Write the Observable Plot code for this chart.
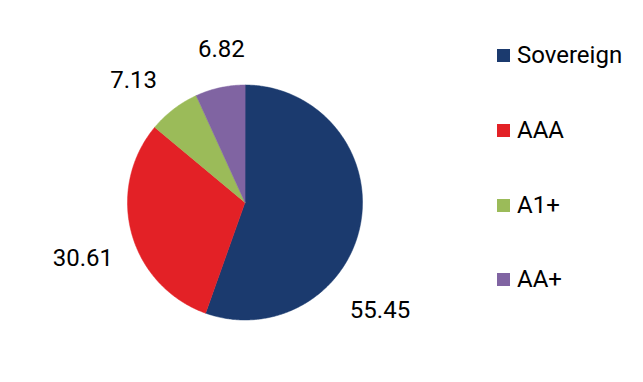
<!DOCTYPE html>
<html>
<head>
<meta charset="utf-8">
<script src="https://cdn.jsdelivr.net/npm/d3@7"></script>
<script src="https://cdn.jsdelivr.net/npm/@observablehq/plot@0.6"></script>
<style>
  html, body { margin: 0; padding: 0; background: #fff; }
  #wrap { position: relative; width: 643px; height: 382px; font-family: Roboto, "Noto Sans", sans-serif; }
  #legend { position: absolute; left: 497px; top: 0; }
  .item { position: absolute; left: 0; display: flex; align-items: center; white-space: nowrap; font-size: 24px; color: #000; }
  .sw { width: 13px; height: 13px; margin-right: 7px; }
</style>
</head>
<body>
<div id="wrap"></div>
<script>
// ---- data ----
const categories = ["Sovereign", "AAA", "A1+", "AA+"];
const values = [55.45, 30.61, 7.13, 6.82];
const labels = ["55.45", "30.61", "7.13", "6.82"];

// ---- styling / layout ----
const colors = ["#1b3a6e", "#e32126", "#9bbb59", "#8064a2"];
const W = 643, H = 382;
const cx = 244.5, cy = 202, R = 117.5;        // pie centre and radius in px
const labelAngleShift = [28.8, -3.8, -4.9, 3.5]; // degrees, label placement
const labelRadius = [1.47, 1.46, 1.41, 1.32];    // in pie radii
const legendY = [55, 130, 205, 279];

const total = d3.sum(values);
const pts = [];
const labs = [];
let acc = 0;
values.forEach((v, i) => {
  const a0 = acc / total * 2 * Math.PI;
  acc += v;
  const a1 = acc / total * 2 * Math.PI;
  const n = Math.max(2, Math.ceil((a1 - a0) / 0.01));
  pts.push({x: 0, y: 0, k: categories[i]});
  for (let j = 0; j <= n; j++) {
    const a = a0 + (a1 - a0) * j / n;
    pts.push({x: Math.sin(a), y: Math.cos(a), k: categories[i]});
  }
  const am = (a0 + a1) / 2 + labelAngleShift[i] * Math.PI / 180;
  labs.push({x: labelRadius[i] * Math.sin(am), y: labelRadius[i] * Math.cos(am), t: labels[i]});
});

const chart = Plot.plot({
  width: W,
  height: H,
  margin: 0,
  style: {background: "transparent", fontFamily: "Roboto, sans-serif"},
  x: {domain: [-cx / R, (W - cx) / R], axis: null},
  y: {domain: [-(H - cy) / R, cy / R], axis: null},
  color: {domain: categories, range: colors},
  marks: [
    Plot.line(pts, {x: "x", y: "y", z: "k", fill: "k", stroke: "k", strokeWidth: 0.5, curve: "linear-closed"}),
    Plot.text(labs, {x: "x", y: "y", text: "t", fontSize: 24, fill: "#000"})
  ]
});

const wrap = document.getElementById("wrap");
wrap.appendChild(chart);
const legend = document.createElement("div");
legend.id = "legend";
categories.forEach((c, i) => {
  const it = document.createElement("div");
  it.className = "item";
  it.style.top = (legendY[i] - 15) + "px";
  it.style.height = "30px";
  const sw = document.createElement("span");
  sw.className = "sw";
  sw.style.background = colors[i];
  const tx = document.createElement("span");
  tx.textContent = c;
  it.appendChild(sw);
  it.appendChild(tx);
  legend.appendChild(it);
});
wrap.appendChild(legend);
</script>
</body>
</html>
